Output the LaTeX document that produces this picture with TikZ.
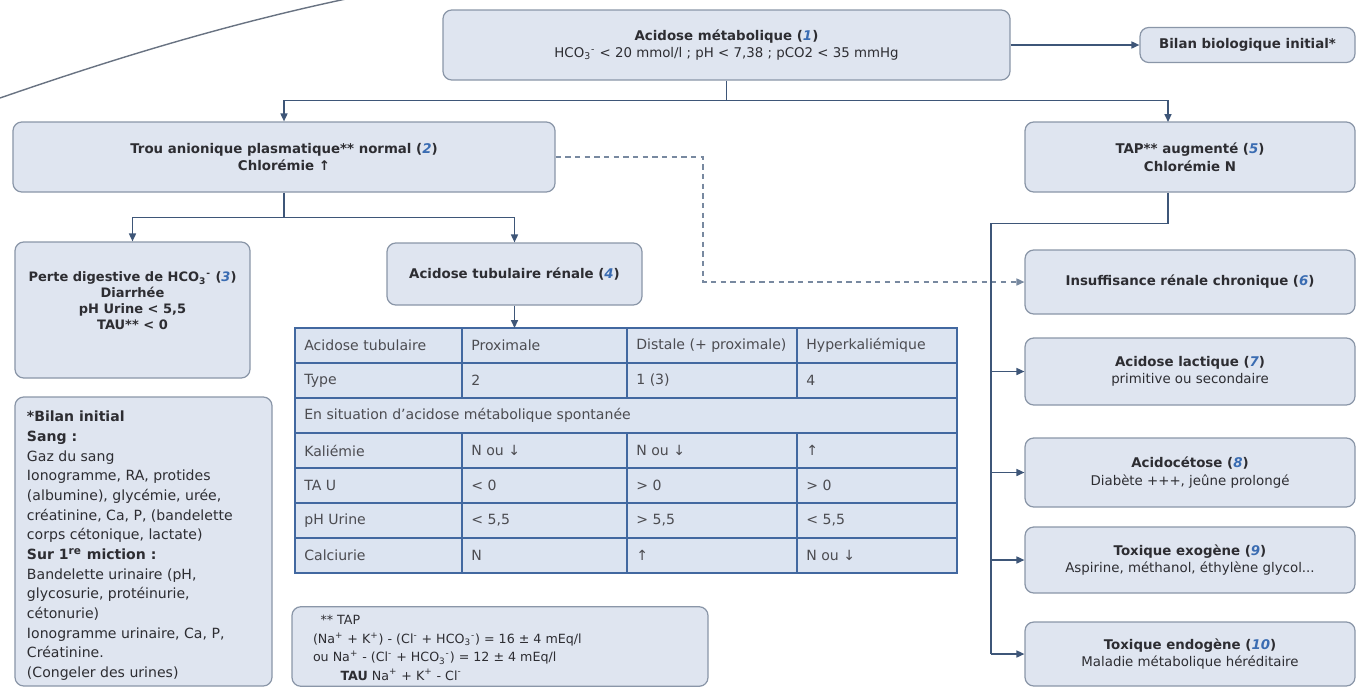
\documentclass[tikz,border=0pt]{standalone}
\usepackage{fontspec}
\setmainfont{DejaVu Sans}
\usepackage{xcolor}
\usepackage{tikz}
\usetikzlibrary{positioning, arrows.meta, calc}
\definecolor{boxfill}{RGB}{223,229,240}
\definecolor{boxline}{RGB}{138,150,168}
\definecolor{linkc}{RGB}{62,86,120}
\definecolor{numc}{RGB}{58,108,178}
\definecolor{inkc}{RGB}{45,45,50}
\definecolor{tblfill}{RGB}{220,228,241}
\definecolor{tblline}{RGB}{66,104,160}
\definecolor{curvec}{RGB}{105,115,130}
\newcommand{\nb}[1]{(\textcolor{numc}{\textit{#1}})}
\newcommand{\hco}{HCO\textsubscript{3}\textsuperscript{-}}
\newcommand{\tx}{\fontsize{7.6}{10}\selectfont}

\begin{document}
\begin{tikzpicture}[
  box/.style={draw=boxline, fill=boxfill, rounded corners=5pt, line width=0.7pt, align=center, font=\tx, text=inkc, inner sep=2pt},
  link/.style={draw=linkc, line width=0.8pt},
  arr/.style={link, -{Triangle[length=4.5pt,width=4pt]}},
  dlink/.style={arr, draw=linkc!70, dash pattern=on 3pt off 2.5pt},
  cell/.style={anchor=west, font=\fontsize{8}{9.5}\selectfont, text=inkc!85, inner sep=0pt},
  tbl/.style={draw=tblline, line width=1pt}]
\useasboundingbox (0,0) rectangle (27.2,-13.76);
\draw[curvec, line width=0.8pt] (0,-1.96) .. controls (2.2,-1.2) and (4.6,-0.45) .. (7.3,0.1);
\node[box, minimum width=11.34cm, minimum height=1.40cm] (acid) at (14.53,-0.90)
  {\textbf{Acidose métabolique \nb{1}}\\\hco{} < 20 mmol/l ; pH < 7,38 ; pCO2 < 35 mmHg};
\node[box, minimum width=4.30cm, minimum height=0.70cm] (bilan) at (24.95,-0.90) {\textbf{Bilan biologique initial*}};
\node[box, minimum width=10.84cm, minimum height=1.40cm] (trou) at (5.68,-3.14)
  {\textbf{Trou anionique plasmatique** normal \nb{2}}\\\textbf{Chlorémie ↑}};
\node[box, minimum width=6.60cm, minimum height=1.40cm] (tap) at (23.80,-3.14)
  {\textbf{TAP** augmenté \nb{5}}\\\textbf{Chlorémie N}};
\node[box, minimum width=4.70cm, minimum height=2.72cm, font=\fontsize{7.4}{9}\selectfont] (perte) at (2.65,-6.20)
  {\textbf{Perte digestive de \hco{} \nb{3}}\\\textbf{Diarrhée}\\\textbf{pH Urine < 5,5}\\\textbf{TAU** < 0}\\[2pt]\mbox{}};
\node[box, minimum width=5.10cm, minimum height=1.24cm] (tub) at (10.29,-5.48) {\textbf{Acidose tubulaire rénale \nb{4}}};
\node[box, minimum width=5.14cm, minimum height=5.78cm] (init) at (2.87,-10.83)
  {\parbox[c][5.5cm][t]{4.66cm}{\raggedright\fontsize{8}{11.2}\selectfont
   \vspace*{4pt}\textbf{*Bilan initial}\\
   \textbf{Sang :}\\
   Gaz du sang\\
   Ionogramme, RA, protides\\
   (albumine), glycémie, urée,\\
   créatinine, Ca, P, (bandelette\\
   corps cétonique, lactate)\\
   \textbf{Sur 1\textsuperscript{re} miction :}\\
   Bandelette urinaire (pH,\\
   glycosurie, protéinurie,\\
   cétonurie)\\
   Ionogramme urinaire, Ca, P,\\
   Créatinine.\\
   (Congeler des urines)}};
\node[box, minimum width=8.32cm, minimum height=1.58cm] (tapdef) at (10.00,-12.93)
  {\parbox[c][1.45cm][t]{7.48cm}{\raggedright\fontsize{7.2}{10.5}\selectfont
   \vspace*{3pt}\hspace*{0.15cm}** TAP\\
   (Na\textsuperscript{+} + K\textsuperscript{+}) - (Cl\textsuperscript{-} + \hco) = 16 ± 4 mEq/l\\
   ou Na\textsuperscript{+} - (Cl\textsuperscript{-} + \hco) = 12 ± 4 mEq/l\\
   \hspace*{0.55cm}\textbf{TAU} Na\textsuperscript{+} + K\textsuperscript{+} - Cl\textsuperscript{-}}};
\node[box, minimum width=6.60cm, minimum height=1.28cm] (irc) at (23.80,-5.64) {\textbf{Insuffisance rénale chronique \nb{6}}};
\node[box, minimum width=6.60cm, minimum height=1.34cm] (lact) at (23.80,-7.43)
  {\textbf{Acidose lactique \nb{7}}\\primitive ou secondaire};
\node[box, minimum width=6.60cm, minimum height=1.38cm] (ceto) at (23.80,-9.45)
  {\textbf{Acidocétose \nb{8}}\\Diabète +++, jeûne prolongé};
\node[box, minimum width=6.60cm, minimum height=1.32cm] (exo) at (23.80,-11.20)
  {\textbf{Toxique exogène \nb{9}}\\Aspirine, méthanol, éthylène glycol...};
\node[box, minimum width=6.60cm, minimum height=1.28cm] (endo) at (23.80,-13.08)
  {\textbf{Toxique endogène \nb{10}}\\Maladie métabolique héréditaire};
\fill[tblfill] (5.90,-6.56) rectangle (19.14,-11.46);
\foreach \y in {-7.26,-7.96,-8.66,-9.36,-10.06,-10.76} \draw[tbl] (5.90,\y) -- (19.14,\y);
\foreach \x in {9.24,12.54,15.94} {\draw[tbl] (\x,-6.56) -- (\x,-7.96); \draw[tbl] (\x,-8.66) -- (\x,-11.46);}
\draw[tbl] (5.90,-6.56) rectangle (19.14,-11.46);
\foreach \r/\a/\b/\c/\d in {1/Acidose tubulaire/Proximale/Distale (+ proximale)/Hyperkaliémique,
    2/Type/2/1 (3)/4, 4/Kaliémie/N ou ↓/N ou ↓/↑, 5/TA U/< 0/> 0/> 0,
    6/pH Urine/{< 5,5}/{> 5,5}/{< 5,5}, 7/Calciurie/N/↑/N ou ↓} {
  \node[cell] (t\r-1) at (6.08,{-6.56-0.70*(\r-0.5)}) {\a};
  \node[cell] (t\r-2) at (9.42,{-6.56-0.70*(\r-0.5)}) {\b};
  \node[cell] (t\r-3) at (12.72,{-6.56-0.70*(\r-0.5)}) {\c};
  \node[cell] (t\r-4) at (16.12,{-6.56-0.70*(\r-0.5)}) {\d};
}
\node[cell] (t3) at (6.08,-8.31) {En situation d'acidose métabolique spontanée};
\coordinate (tapin) at (23.36,-2.44);
\coordinate (tbl) at (10.26,-6.56);
\coordinate (dk) at (14.06,0);
\coordinate (spine) at (19.82,0);
\draw[arr] (acid.east) -- (bilan.west);
\draw[link] (acid.south) -- ++(0,-0.40) coordinate (j1);
\draw[arr] (j1) -| (trou.north);
\draw[arr] (j1) -| (tapin);
\draw[link] (trou.south) -- ++(0,-0.50) coordinate (j2);
\draw[arr] (j2) -| (perte.north);
\draw[arr] (j2) -| (tub.north);
\draw[arr] (tub.south) -- (tub.south |- tbl);
\draw[dlink] (trou.east) -| (dk |- irc.west) -- (irc.west);
\draw[link] (tapin |- tap.south) -- ++(0,-0.62) -| (spine |- endo.west);
\foreach \n in {lact,ceto,exo,endo} \draw[arr] (spine |- \n.west) -- (\n.west);
\end{tikzpicture}
\end{document}
